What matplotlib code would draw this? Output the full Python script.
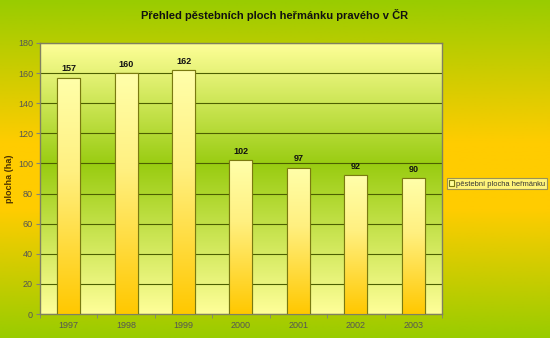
import matplotlib
matplotlib.use("Agg")
import matplotlib.pyplot as plt
import numpy as np
from matplotlib.colors import LinearSegmentedColormap
from matplotlib.patches import Rectangle

years = ["1997", "1998", "1999", "2000", "2001", "2002", "2003"]
values = [157, 160, 162, 102, 97, 92, 90]
title = "Přehled pěstebních ploch heřmánku pravého v ČR"
ylabel = "plocha (ha)"
legend_label = "pěstební plocha heřmánku"

plt.rcParams['font.family'] = ['Liberation Sans', 'DejaVu Sans']

fig = plt.figure(figsize=(5.5, 3.38), dpi=100)

# figure background gradient
bg = fig.add_axes([0, 0, 1, 1], zorder=-10)
bg.set_axis_off()
bg_cmap = LinearSegmentedColormap.from_list(
    "bg", [(0.0, "#99cc00"), (0.42, "#ffcc00"), (0.62, "#ffcc00"), (1.0, "#99cc00")])
grad = np.linspace(0, 1, 256).reshape(-1, 1)
bg.imshow(grad, aspect="auto", cmap=bg_cmap, extent=[0, 1, 0, 1], origin="upper")
bg.set_xlim(0, 1)
bg.set_ylim(0, 1)

ax = fig.add_axes([0.0727, 0.071, 0.7309, 0.802])
n = len(years)
x = np.arange(n)
ax.set_xlim(-0.5, n - 0.5)
ax.set_ylim(0, 180)

# plot area gradient
pa_cmap = LinearSegmentedColormap.from_list(
    "pa", [(0.0, "#ffff99"), (0.45, "#99cc11"), (1.0, "#ffff99")])
ax.imshow(grad, aspect="auto", cmap=pa_cmap, extent=[-0.5, n - 0.5, 0, 180],
          origin="upper", zorder=0)

ax.set_yticks(np.arange(0, 181, 20))
ax.grid(axis="y", color="#4d6000", linewidth=0.8, zorder=1)
ax.set_axisbelow(True)

bar_cmap = LinearSegmentedColormap.from_list("bar", [(0.0, "#ffc800"), (0.6, "#fff080"), (1.0, "#ffffaa")])
vgrad = np.linspace(0, 1, 256).reshape(-1, 1)
bars = ax.bar(x, values, width=0.4, color="#ffff99", edgecolor="#7a7a10",
              linewidth=0.8, zorder=3, label=legend_label)
for b, v in zip(bars, values):
    im = ax.imshow(vgrad, aspect="auto", cmap=bar_cmap,
                   extent=[b.get_x(), b.get_x() + b.get_width(), 0, v],
                   origin="lower", zorder=3.5)
    im.set_clip_path(b)
    r = Rectangle((b.get_x(), 0), b.get_width(), v, fill=False,
                  edgecolor="#7a7a10", linewidth=0.8, zorder=4)
    ax.add_patch(r)
    ax.text(b.get_x() + b.get_width() / 2, v + 3, str(v), ha="center",
            va="bottom", fontsize=6.5, fontweight="bold", color="#111111", zorder=5)

ax.set_xticks(x)
ax.set_xticklabels(years)
ax.set_xticks(np.arange(-0.5, n, 1), minor=True)
ax.tick_params(axis="x", which="major", length=0, labelsize=6.5, labelcolor="#555555", pad=5)
ax.tick_params(axis="x", which="minor", length=3, color="#808080", direction="out")
ax.tick_params(axis="y", length=3, color="#808080", labelsize=6.5, labelcolor="#555555", pad=2)

for s in ax.spines.values():
    s.set_color("#808060")
    s.set_linewidth(1.0)

ax.set_ylabel(ylabel, fontsize=6.5, fontweight="bold", color="#4d3300", labelpad=3)
fig.text(0.5, 0.955, title, ha="center", va="center", fontsize=8, fontweight="bold",
         color="#111111")

leg = ax.legend(loc="center left", bbox_to_anchor=(1.012, 0.48), fontsize=5.4,
                frameon=True, fancybox=False, handlelength=0.7, handleheight=0.7,
                handletextpad=0.3, borderpad=0.25, borderaxespad=0)
leg.get_frame().set_edgecolor("#808060")
leg.get_frame().set_facecolor("#ffff99")
leg.get_frame().set_linewidth(0.8)
for t in leg.get_texts():
    t.set_color("#333333")

fig.savefig("out.png", dpi=100)
